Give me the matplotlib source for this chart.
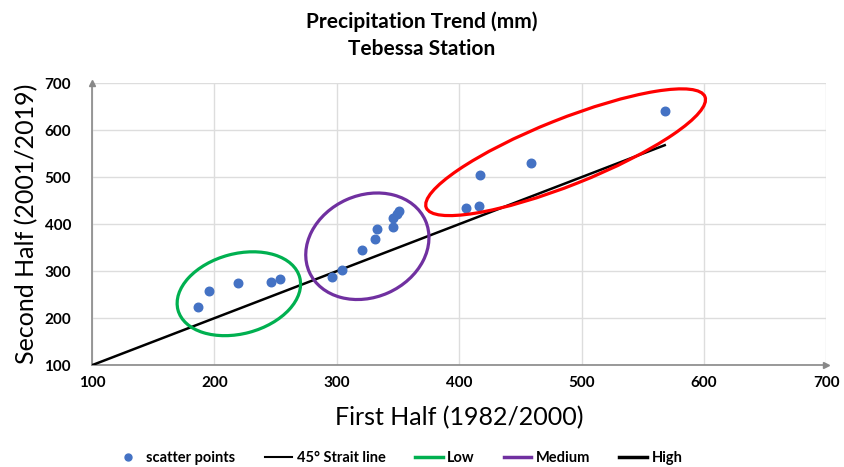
import matplotlib
matplotlib.use("Agg")
import matplotlib.pyplot as plt
from matplotlib.patches import Ellipse
from matplotlib.lines import Line2D
from matplotlib.transforms import ScaledTranslation

plt.rcParams['font.family'] = ['Lato', 'DejaVu Sans']

# datos
first_half = [187, 196, 219, 246, 254, 296, 304, 321, 331, 333, 346, 346, 349, 351, 406, 416, 417, 459, 568]
second_half = [223, 257, 274, 276, 283, 288, 302, 345, 368, 389, 393, 414, 421, 428, 435, 439, 504, 530, 640]
line_x = [100, 568]
line_y = [100, 568]
ticks = [100, 200, 300, 400, 500, 600, 700]

# grupos (centro en datos, semiejes en pixeles, angulo)
groups = ["Low", "Medium", "High"]
group_colors = ["#00B050", "#7030A0", "#FF0000"]
group_centers = [(220, 252), (325, 353), (487, 553)]
group_axes = [(63, 40), (63.5, 51), (150, 33)]
group_angles = [15, 24, 21.7]

fig = plt.figure(figsize=(8.44, 4.67), dpi=100)
ax = fig.add_axes([0.109, 0.218, 0.870, 0.604])

ax.scatter(first_half, second_half, s=38, color="#4472C4", zorder=4)
ax.plot(line_x, line_y, color="black", lw=1.8, zorder=3)

for c, (a, b), ang, col in zip(group_centers, group_axes, group_angles, group_colors):
    tr = fig.dpi_scale_trans + ScaledTranslation(c[0], c[1], ax.transData)
    e = Ellipse((0, 0), 2 * a / 100, 2 * b / 100, angle=ang, transform=tr,
                fill=False, edgecolor=col, lw=2.3, zorder=5)
    ax.add_patch(e)

ax.set_xlim(100, 700)
ax.set_ylim(100, 700)
ax.set_xticks(ticks)
ax.set_yticks(ticks)
ax.tick_params(length=0, labelsize=11)
ax.tick_params(axis="x", pad=8)
ax.tick_params(axis="y", pad=15)
for lab in ax.get_xticklabels() + ax.get_yticklabels():
    lab.set_fontweight("bold")
ax.grid(True, color="#DDDDDD", lw=1)
ax.set_axisbelow(True)
for s in ["top", "right"]:
    ax.spines[s].set_visible(False)
for s in ["left", "bottom"]:
    ax.spines[s].set_color("#888888")
    ax.spines[s].set_linewidth(1.2)
ax.plot(0, 1, marker="^", color="#888888", ms=5, transform=ax.transAxes, clip_on=False)
ax.plot(1, 0, marker=">", color="#888888", ms=5, transform=ax.transAxes, clip_on=False)

ax.set_xlabel("First Half (1982/2000)", fontsize=18, labelpad=11)
ax.set_ylabel("Second Half (2001/2019)", fontsize=18)
ax.yaxis.set_label_coords(-0.073, 0.5)
fig.text(0.5, 0.953, "Precipitation Trend (mm)", ha="center", va="center",
         fontsize=15, fontweight="bold")
fig.text(0.5, 0.895, "Tebessa Station", ha="center", va="center",
         fontsize=15, fontweight="bold")

handles = [
    Line2D([], [], marker="o", ls="none", color="#4472C4", ms=5),
    Line2D([], [], color="black", lw=1.5),
    Line2D([], [], color=group_colors[0], lw=2.5),
    Line2D([], [], color=group_colors[1], lw=2.5),
    Line2D([], [], color="black", lw=2.5),
]
labels = ["scatter points", "45° Strait line"] + groups
leg = fig.legend(handles, labels, loc="center", bbox_to_anchor=(0.472, 0.02), ncol=5,
                 frameon=False, prop={"weight": "bold", "size": 10.5},
                 handlelength=1.9, handletextpad=0.3, columnspacing=2.0)

fig.savefig("out.png", dpi=100)
